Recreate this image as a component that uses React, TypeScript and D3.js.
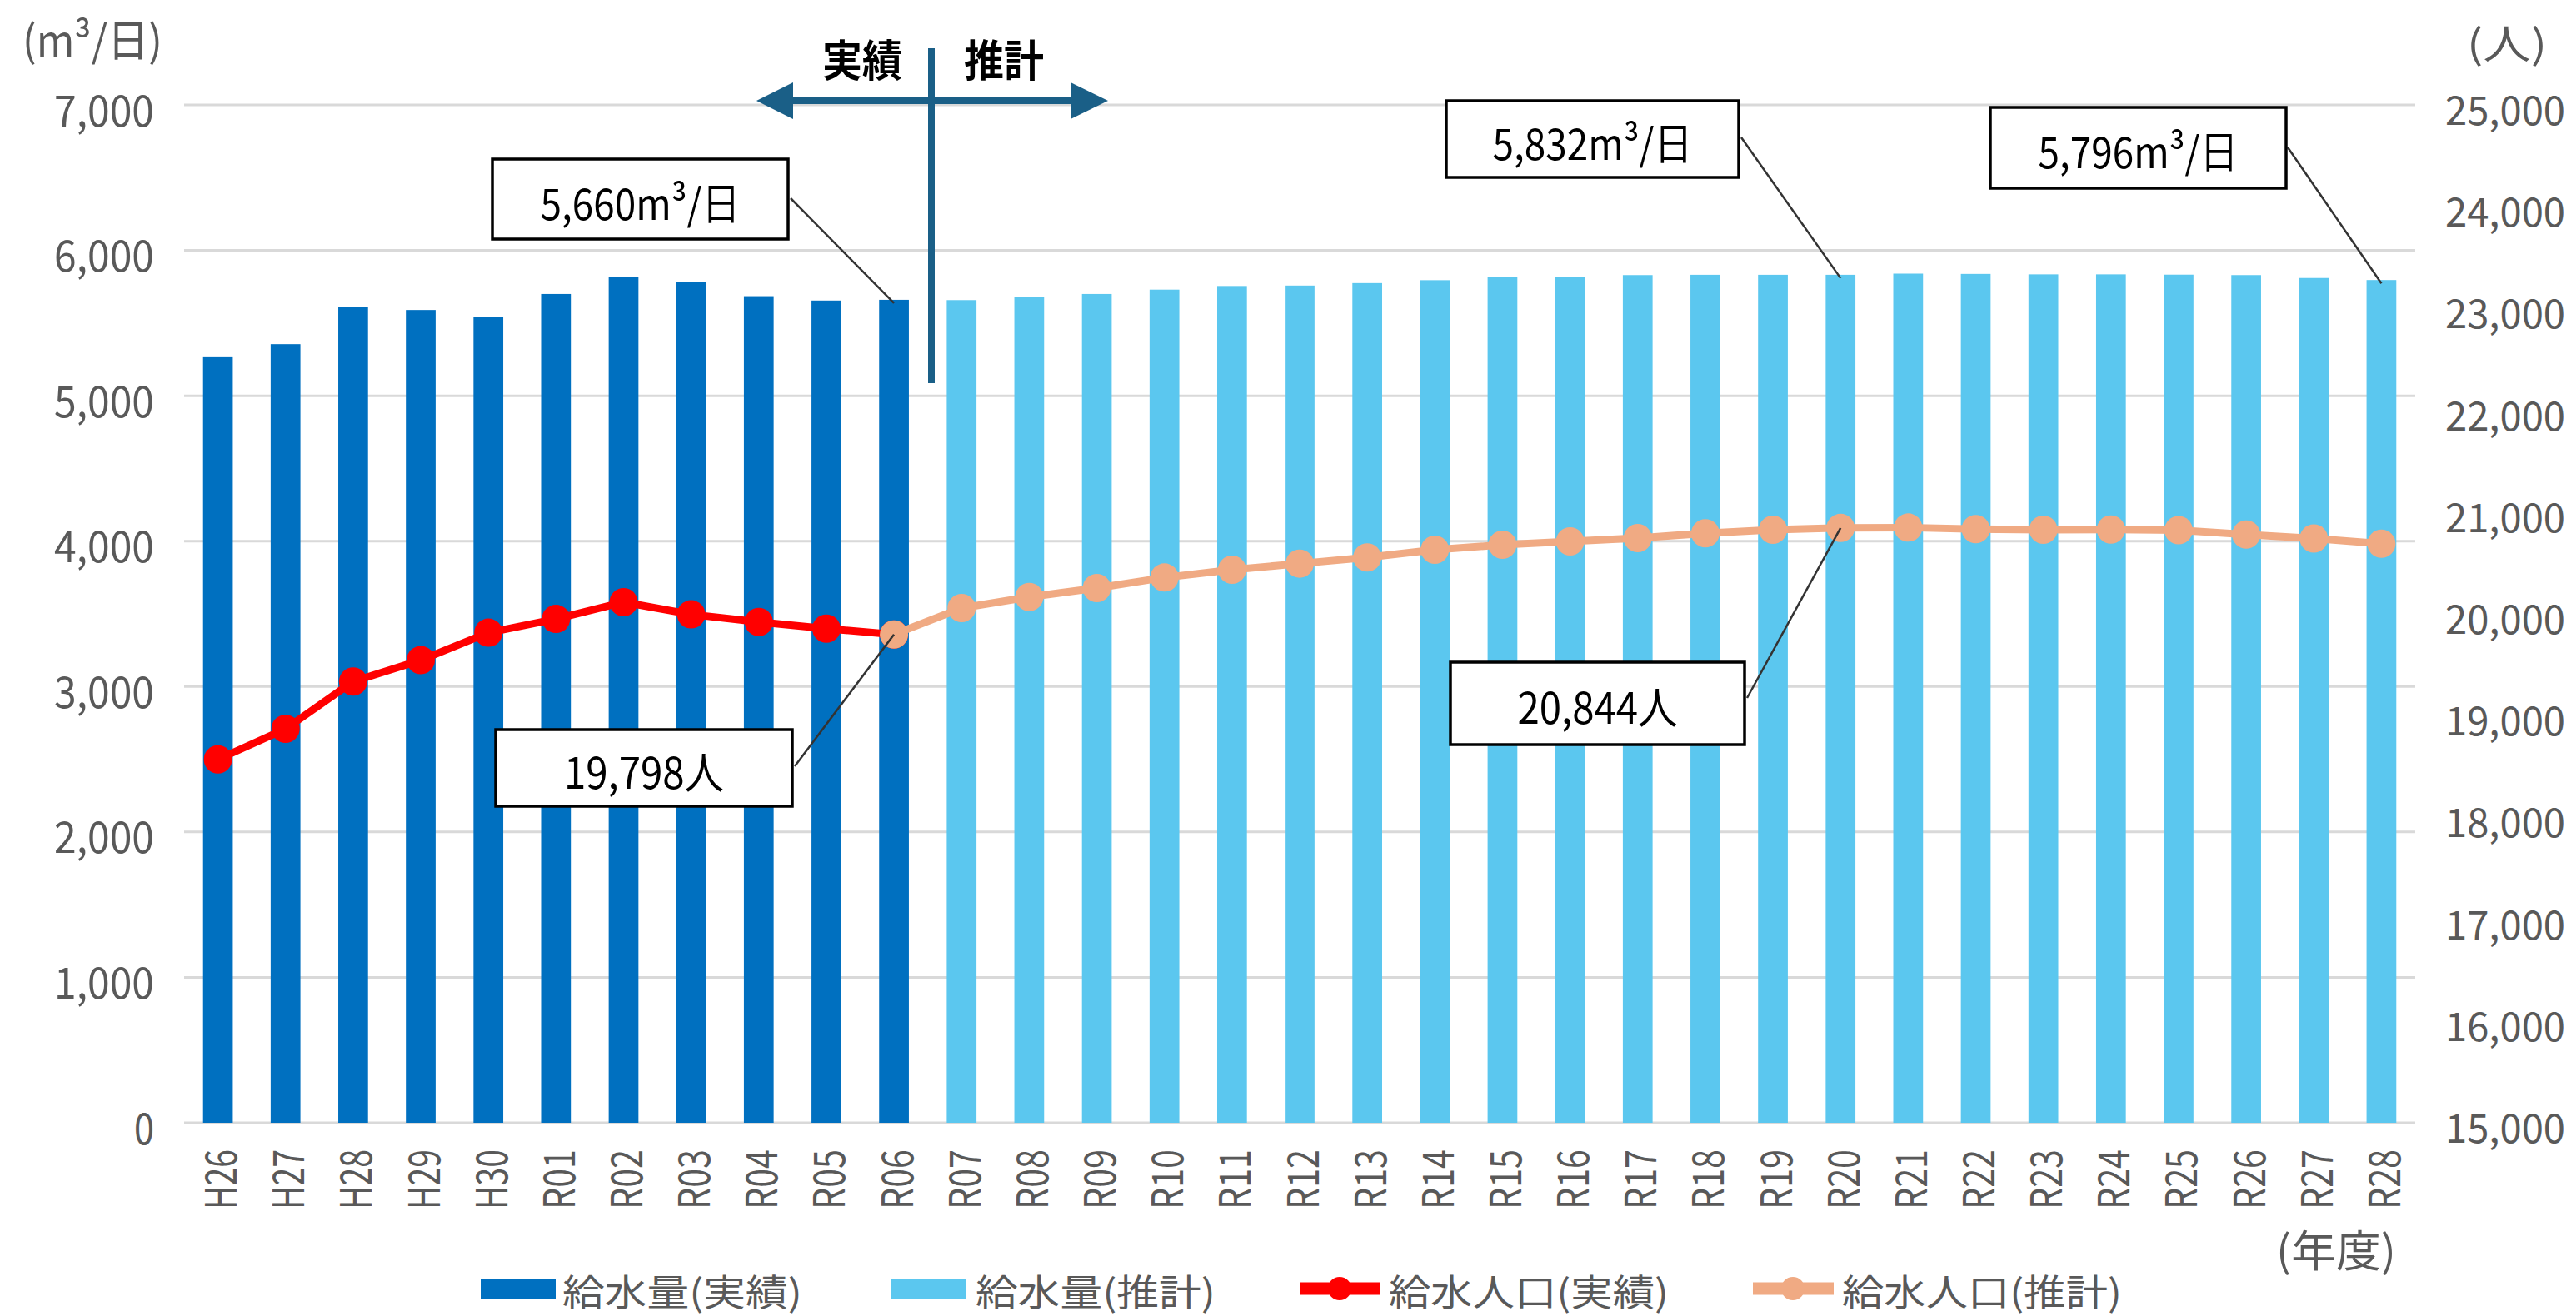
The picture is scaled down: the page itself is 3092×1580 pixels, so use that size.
import React from 'react';
import * as d3 from 'd3';

// ---------- data ----------
const years = [
  'H26', 'H27', 'H28', 'H29', 'H30', 'R01', 'R02', 'R03', 'R04', 'R05', 'R06',
  'R07', 'R08', 'R09', 'R10', 'R11', 'R12', 'R13', 'R14', 'R15', 'R16', 'R17',
  'R18', 'R19', 'R20', 'R21', 'R22', 'R23', 'R24', 'R25', 'R26', 'R27', 'R28',
];
const actualYears = years.slice(0, 11); // H26..R06
const forecastYears = years.slice(11); // R07..R28
const popForecastYears = years.slice(10); // R06..R28

const supplyActual = [5265, 5355, 5610, 5590, 5545, 5700, 5820, 5780, 5685, 5655, 5660];
const supplyForecast = [
  5658, 5680, 5700, 5730, 5755, 5758, 5775, 5795, 5815, 5815, 5830,
  5832, 5832, 5832, 5840, 5838, 5835, 5835, 5833, 5830, 5810, 5796,
];
const popActual = [18570, 18870, 19335, 19545, 19815, 19950, 20115, 19995, 19920, 19855, 19798];
const popForecast = [
  19798, 20057, 20166, 20254, 20357, 20434, 20494, 20554, 20630, 20679, 20712, 20745,
  20792, 20826, 20844, 20848, 20832, 20826, 20828, 20822, 20780, 20740, 20690,
];

const leftTicks = [0, 1000, 2000, 3000, 4000, 5000, 6000, 7000];
const rightTicks = [15000, 16000, 17000, 18000, 19000, 20000, 21000, 22000, 23000, 24000, 25000];

const legendLabels = ['給水量(実績)', '給水量(推計)', '給水人口(実績)', '給水人口(推計)'];
const callouts = [
  { text: '5,660m³/日', year: 'R06', kind: 'bar', value: 5660 },
  { text: '5,832m³/日', year: 'R20', kind: 'bar', value: 5832 },
  { text: '5,796m³/日', year: 'R28', kind: 'bar', value: 5796 },
  { text: '19,798人', year: 'R06', kind: 'pop', value: 19798 },
  { text: '20,844人', year: 'R20', kind: 'pop', value: 20844 },
];

// ---------- layout / style ----------
const W = 3092;
const H = 1580;
const PLOT_L = 221;
const PLOT_R = 2899;
const PLOT_T = 126;
const PLOT_B = 1348;
const FONT = '"Noto Sans CJK JP", "Noto Sans", sans-serif';
const FS = 52;
const HALF = 24;
const FULL = 48;
const GRAY = '#595959';
const DARK = '#0070C0';
const LIGHT = '#5BC7EF';
const RED = '#FF0000';
const PEACH = '#F0AA83';
const ARROW = '#1A5F87';

// box layout for callouts (x, y, w, h) and leader start
const boxes = [
  { x: 591, y: 191, w: 355, h: 96, lx: 949, ly: 238 },
  { x: 1736, y: 121, w: 351, h: 92, lx: 2090, ly: 165 },
  { x: 2389, y: 129, w: 355, h: 97, lx: 2746, ly: 177 },
  { x: 595, y: 876, w: 356, h: 92, lx: 954, ly: 920 },
  { x: 1741, y: 795, w: 353, h: 99, lx: 2097, ly: 838 },
];

function textLen(s: string): number {
  let w = 0;
  for (const ch of s) w += ch.charCodeAt(0) < 0x1100 ? HALF : FULL;
  return w;
}

function T(props: {
  x: number; y: number; s: string; anchor?: string; fill?: string; weight?: string | number;
  transform?: string; fs?: number;
}) {
  const { x, y, s, anchor = 'start', fill = GRAY, weight = 'normal', transform, fs = FS } = props;
  return (
    <text
      x={x}
      y={y}
      textAnchor={anchor as any}
      dominantBaseline="central"
      fontFamily={FONT}
      fontSize={fs}
      fontWeight={weight}
      fill={fill}
      textLength={textLen(s)}
      lengthAdjust="spacingAndGlyphs"
      transform={transform}
    >
      {s}
    </text>
  );
}

export default function App() {
  const x = d3.scaleBand<string>().domain(years).range([PLOT_L, PLOT_R]).paddingInner(0.56).paddingOuter(0.28);
  const cx = (k: string) => (x(k) as number) + x.bandwidth() / 2;
  const yL = d3.scaleLinear().domain([0, 7000]).range([PLOT_B, PLOT_T]);
  const yR = d3.scaleLinear().domain([15000, 25000]).range([PLOT_B, PLOT_T]);

  const lineGen = d3.line<[string, number]>().x((d) => cx(d[0])).y((d) => yR(d[1]));
  const actualPts: [string, number][] = actualYears.map((k, i) => [k, popActual[i]]);
  const forecastPts: [string, number][] = popForecastYears.map((k, i) => [k, popForecast[i]]);

  const legendY = 1547;
  const legendXs = [577, 1069, 1560, 2104];
  const legendTextXs = [675, 1171, 1667, 2211];

  return (
    <svg
      width={W}
      height={H}
      viewBox={`0 0 ${W} ${H}`}
      style={{ position: 'absolute', left: 0, top: 0, display: 'block', background: '#fff' }}
    >
      <rect x={0} y={0} width={W} height={H} fill="#fff" />
      {/* gridlines */}
      {leftTicks.map((t) => (
        <line key={'g' + t} x1={PLOT_L} x2={PLOT_R} y1={yL(t)} y2={yL(t)} stroke="#D9D9D9" strokeWidth={3} />
      ))}

      {/* bars */}
      {actualYears.map((k, i) => (
        <rect key={'ba' + k} x={x(k)} y={yL(supplyActual[i])} width={x.bandwidth()} height={yL(0) - yL(supplyActual[i])} fill={DARK} />
      ))}
      {forecastYears.map((k, i) => (
        <rect key={'bf' + k} x={x(k)} y={yL(supplyForecast[i])} width={x.bandwidth()} height={yL(0) - yL(supplyForecast[i])} fill={LIGHT} />
      ))}

      {/* population lines */}
      <path d={lineGen(actualPts) || ''} fill="none" stroke={RED} strokeWidth={9} strokeLinejoin="round" />
      {actualPts.map((d) => (
        <circle key={'pa' + d[0]} cx={cx(d[0])} cy={yR(d[1])} r={17} fill={RED} />
      ))}
      <path d={lineGen(forecastPts) || ''} fill="none" stroke={PEACH} strokeWidth={9} strokeLinejoin="round" />
      {forecastPts.map((d) => (
        <circle key={'pf' + d[0]} cx={cx(d[0])} cy={yR(d[1])} r={17} fill={PEACH} />
      ))}

      {/* callouts */}
      {callouts.map((c, i) => {
        const b = boxes[i];
        const tx = cx(c.year);
        const ty = c.kind === 'bar' ? yL(c.value) + 4 : yR(c.value);
        return (
          <g key={'c' + i}>
            <line x1={b.lx} y1={b.ly} x2={tx} y2={ty} stroke="#333" strokeWidth={2.5} />
            <rect x={b.x} y={b.y} width={b.w} height={b.h} fill="#fff" stroke="#000" strokeWidth={3.5} />
            <T x={b.x + b.w / 2} y={b.y + b.h / 2 + 2} s={c.text} anchor="middle" fill="#000" />
          </g>
        );
      })}

      {/* actual / forecast divider */}
      <line x1={950} x2={1288} y1={121} y2={121} stroke={ARROW} strokeWidth={8} />
      <polygon points="908,121 952,99 952,143" fill={ARROW} />
      <polygon points="1330,121 1285,99 1285,143" fill={ARROW} />
      <line x1={1118} x2={1118} y1={58} y2={460} stroke={ARROW} strokeWidth={8} />
      <T x={1035} y={69} s="実績" anchor="middle" fill="#000" weight="bold" />
      <T x={1205} y={69} s="推計" anchor="middle" fill="#000" weight="bold" />

      {/* left axis */}
      {leftTicks.map((t) => (
        <T key={'lt' + t} x={185} y={yL(t) + 3} s={d3.format(',')(t)} anchor="end" />
      ))}
      <T x={27} y={45} s="(m³/日)" />
      {/* right axis */}
      {rightTicks.map((t) => (
        <T key={'rt' + t} x={2935} y={yR(t) + 3} s={d3.format(',')(t)} fs={48} />
      ))}
      <T x={2961} y={49} s="(人)" fs={48} />

      {/* x labels */}
      {years.map((k) => (
        <T key={'xl' + k} x={0} y={0} s={k} anchor="end" transform={`translate(${cx(k)},1380) rotate(-90)`} />
      ))}
      <T x={2876} y={1498} s="(年度)" anchor="end" />

      {/* legend */}
      <rect x={legendXs[0]} y={legendY - 12} width={90} height={25} fill={DARK} />
      <rect x={legendXs[1]} y={legendY - 12} width={90} height={25} fill={LIGHT} />
      <line x1={legendXs[2]} x2={legendXs[2] + 97} y1={legendY} y2={legendY} stroke={RED} strokeWidth={15} />
      <circle cx={legendXs[2] + 48} cy={legendY} r={14} fill={RED} />
      <line x1={legendXs[3]} x2={legendXs[3] + 97} y1={legendY} y2={legendY} stroke={PEACH} strokeWidth={15} />
      <circle cx={legendXs[3] + 48} cy={legendY} r={14} fill={PEACH} />
      {legendLabels.map((s, i) => (
        <T key={'lg' + i} x={legendTextXs[i]} y={legendY + 2} s={s} fs={44} />
      ))}
    </svg>
  );
}
